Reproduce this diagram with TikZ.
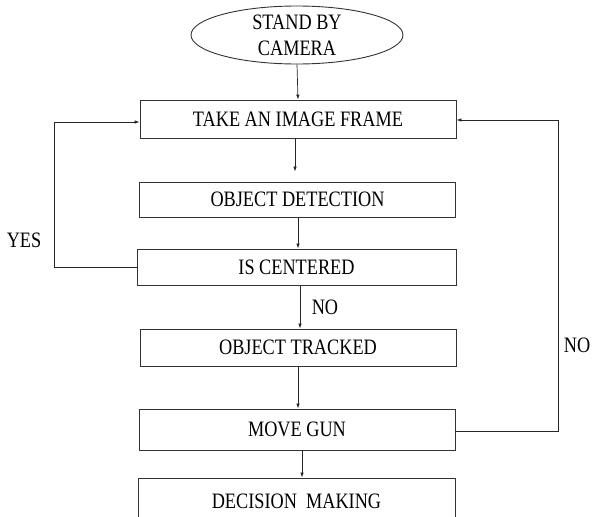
\documentclass[tikz,border=0pt]{standalone}
\usepackage{fontspec}
\setmainfont[FakeStretch=0.83]{Liberation Serif}
\usetikzlibrary{shapes.geometric,arrows.meta}
\begin{document}
\begin{tikzpicture}[x=1pt, y=-1pt,
    kasten/.style={draw=black!80, line width=0.9pt, rectangle, minimum width=316pt, inner sep=0pt},
    pfeil/.style={draw=black!85, line width=0.7pt, -{Latex[length=5pt, width=3.5pt]}},
    every node/.style={font=\fontsize{22}{27}\selectfont}]
    \useasboundingbox (0,0) rectangle (595,517);
    \clip (0,0) rectangle (595,517);
    % Knoten
    \node[ellipse, draw=black!80, line width=0.9pt, minimum width=212pt, minimum height=58pt, inner sep=0pt, align=center] (kamera) at (297,35) {STAND BY\\[-1pt]CAMERA};
    \node[kasten, minimum height=38pt] (bild) at (298,119) {TAKE AN IMAGE FRAME};
    \node[kasten, minimum height=35pt] (erkennung) at (297.5,199.5) {OBJECT DETECTION};
    \node[kasten, minimum width=319pt, minimum height=36pt] (mitte) at (296.5,267) {IS CENTERED};
    \node[kasten, minimum height=37pt] (verfolgt) at (298,347.5) {OBJECT TRACKED};
    \node[kasten, minimum height=41pt] (waffe) at (297,429.5) {MOVE GUN};
    \node[kasten, minimum width=317pt, minimum height=46pt] (entscheidung) at (296.5,501) {DECISION\ \ MAKING};
    % Pfeile
    \draw[pfeil] (kamera.south) -- (bild.north);
    \draw[pfeil, shorten >=10pt] ([xshift=-3pt]bild.south) -- ([xshift=-2.5pt]erkennung.north);
    \draw[pfeil] ([xshift=0.5pt]erkennung.south) -- ([xshift=1.5pt]mitte.north);
    \draw[pfeil] ([xshift=3.5pt]mitte.south) -- ([xshift=2pt]verfolgt.north);
    \draw[pfeil] (verfolgt.south) -- ([xshift=1pt]waffe.north);
    \draw[pfeil] ([xshift=5pt]waffe.south) -- ([xshift=5.5pt]entscheidung.north);
    % Schleifen
    \draw[pfeil] (mitte.west) -- ++(-82,0) |- ([yshift=-3pt]bild.west);
    \draw[pfeil] ([yshift=-1.5pt]waffe.east) -- ++(103,0) |- ([yshift=-1pt]bild.east);
    % Beschriftung
    \node (ja) at (24,240) {YES};
    \node (nein) at (325,307) {NO};
    \node (nein2) at (577,345) {NO};
\end{tikzpicture}
\end{document}
